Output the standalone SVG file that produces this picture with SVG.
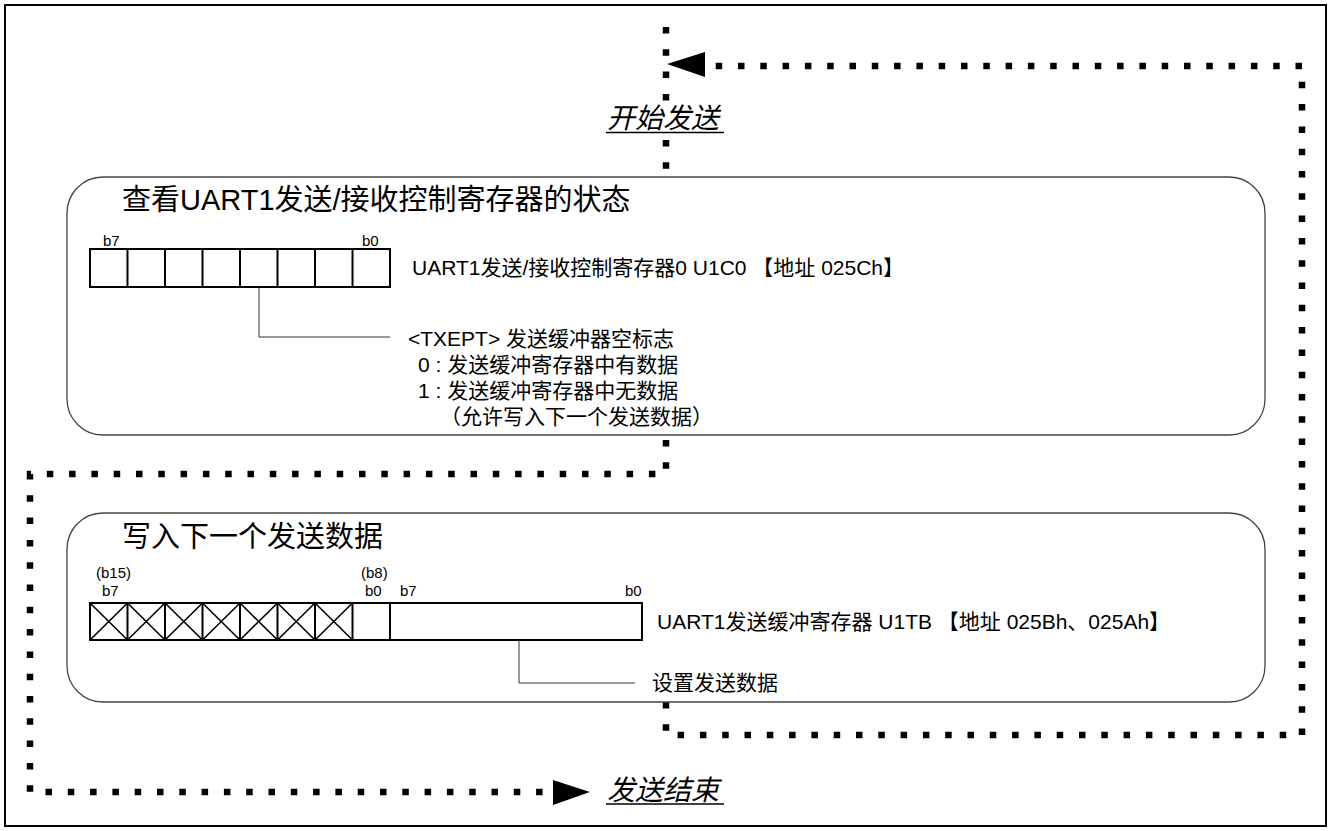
<svg xmlns="http://www.w3.org/2000/svg" width="1330" height="831" viewBox="0 0 1330 831">
<style>
.t{font-family:"Liberation Sans","Noto Sans CJK SC",sans-serif;fill:#000}
.title{font-size:29px}
.body{font-size:21px}
.bit{font-size:15px}
.it{font-size:28px;font-style:italic}
.box{fill:#fff;stroke:#444;stroke-width:1.3}
.reg{fill:#fff;stroke:#000;stroke-width:2}
.cell{stroke:#000;stroke-width:2;fill:none}
.cross{stroke:#000;stroke-width:1.6;fill:none}
.lead{stroke:#333;stroke-width:1;fill:none}
.dot{stroke:#000;stroke-width:6.5;fill:none;stroke-dasharray:6.5 15.8}
.ul{stroke:#000;stroke-width:1.5}
</style>
<rect x="5" y="5" width="1321" height="821" fill="#fff" stroke="#000" stroke-width="2"/>

<g id="connectors">
<path class="dot" d="M666,27 V106"/>
<path class="dot" d="M666,140 V170"/>
<path class="dot" d="M666,702 V735 H1302 V66 H708"/>
<polygon points="667,64 705,52 705,77" fill="#000"/>
<path class="dot" d="M666,440 V474 H30 V792 H553"/>
<polygon points="590,792 553,780 553,805" fill="#000"/>
</g>

<g id="start">
<text class="t it" x="607" y="128">开始发送</text>
<line class="ul" x1="606" y1="132.5" x2="724" y2="132.5"/>
</g>

<g id="check-status">
<rect class="box" x="67" y="177" width="1198" height="258" rx="36" ry="36"/>
<text class="t title" x="122" y="210">查看UART1发送/接收控制寄存器的状态</text>
<text class="t bit" x="103" y="246">b7</text>
<text class="t bit" x="362" y="246">b0</text>
<rect class="reg" x="90" y="249" width="300" height="38"/>
<path class="cell" d="M127.5,249V287M165,249V287M202.5,249V287M240,249V287M277.5,249V287M315,249V287M352.5,249V287"/>
<text class="t body" x="412" y="275">UART1发送/接收控制寄存器0 U1C0 【地址 025Ch】</text>
<path class="lead" d="M259,287 V337 H390"/>
<text class="t body" x="408" y="346">&lt;TXEPT&gt; 发送缓冲器空标志</text>
<text class="t body" x="418" y="372">0 : 发送缓冲寄存器中有数据</text>
<text class="t body" x="418" y="398">1 : 发送缓冲寄存器中无数据</text>
<text class="t body" x="440" y="424">（允许写入下一个发送数据）</text>
</g>

<g id="write-data">
<rect class="box" x="67" y="513" width="1198" height="189" rx="36" ry="36"/>
<text class="t title" x="122" y="547">写入下一个发送数据</text>
<text class="t bit" x="96" y="578">(b15)</text>
<text class="t bit" x="102" y="596">b7</text>
<text class="t bit" x="361" y="578">(b8)</text>
<text class="t bit" x="365" y="596">b0</text>
<text class="t bit" x="400" y="596">b7</text>
<text class="t bit" x="625" y="596">b0</text>
<rect class="reg" x="90" y="603" width="300" height="37"/>
<path class="cell" d="M127.5,603V640M165,603V640M202.5,603V640M240,603V640M277.5,603V640M315,603V640M352.5,603V640"/>
<path class="cross" d="M90,603L127.5,640M127.5,603L90,640M127.5,603L165,640M165,603L127.5,640M165,603L202.5,640M202.5,603L165,640M202.5,603L240,640M240,603L202.5,640M240,603L277.5,640M277.5,603L240,640M277.5,603L315,640M315,603L277.5,640M315,603L352.5,640M352.5,603L315,640"/>
<rect class="reg" x="390" y="603" width="252" height="37"/>
<text class="t body" x="657" y="629">UART1发送缓冲寄存器 U1TB 【地址 025Bh、025Ah】</text>
<path class="lead" d="M519,640 V683 H635"/>
<text class="t body" x="652" y="690">设置发送数据</text>
</g>

<g id="end">
<text class="t it" x="607" y="800">发送结束</text>
<line class="ul" x1="606" y1="804" x2="724" y2="804"/>
</g>
</svg>
